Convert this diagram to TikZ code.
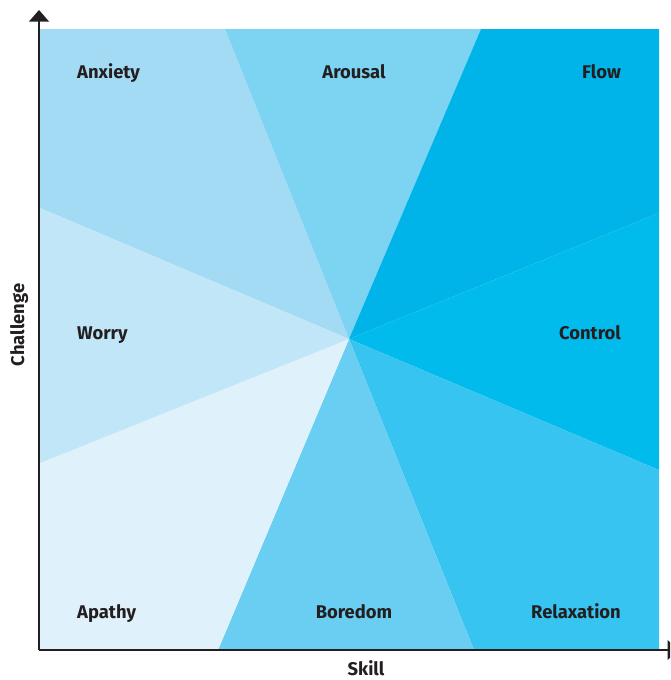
\documentclass[tikz,border=0pt]{standalone}
\usepackage{fontspec}
\setmainfont{Fira Sans}
\definecolor{cAnx}{HTML}{A3DBF4}
\definecolor{cAro}{HTML}{7DD3F2}
\definecolor{cFlow}{HTML}{00B4E9}
\definecolor{cCtl}{HTML}{00BBEC}
\definecolor{cRel}{HTML}{37C4F0}
\definecolor{cBor}{HTML}{69CEF1}
\definecolor{cApa}{HTML}{DFF1FB}
\definecolor{cWor}{HTML}{C0E6F8}
\definecolor{ink}{HTML}{231F20}
\tikzset{
  lbl/.style={inner sep=0pt, text=ink, font=\fontsize{18.4}{20}\selectfont\bfseries},
  axis/.style={draw=ink, line width=2.2pt},
  tip/.style={fill=ink, draw=none}
}
\begin{document}
\begin{tikzpicture}[x=1pt,y=-1pt]
\useasboundingbox (0,0) rectangle (670,680);
\clip (0,0) rectangle (670,680);
\coordinate (C) at (349,339);
% wedges
\fill[cAnx] (C) -- (40,208) -- (40,29) -- (225,29) -- cycle;
\fill[cAro] (C) -- (225,29) -- (481,29) -- cycle;
\fill[cFlow] (C) -- (481,29) -- (659,29) -- (659,213) -- cycle;
\fill[cCtl] (C) -- (659,213) -- (659,470) -- cycle;
\fill[cRel] (C) -- (659,470) -- (659,650) -- (474,650) -- cycle;
\fill[cBor] (C) -- (474,650) -- (218,650) -- cycle;
\fill[cApa] (C) -- (218,650) -- (40,650) -- (40,463) -- cycle;
\fill[cWor] (C) -- (40,463) -- (40,208) -- cycle;
% axes
\coordinate (O) at (39,650);
\coordinate (Ytop) at (39,21);
\coordinate (Xend) at (668,650);
\draw[axis] (O) -- (Ytop);
\draw[axis] (O) -- (Xend);
\fill[tip] (39,10) -- (29,21.5) -- (49,21.5) -- cycle;
\fill[tip] (679,650) -- (667.5,640) -- (667.5,660) -- cycle;
% labels
\node[lbl, anchor=base west] (anx) at (77,78) {Anxiety};
\node[lbl, anchor=base] (aro) at (354,78) {Arousal};
\node[lbl, anchor=base east] (flow) at (621,78) {Flow};
\node[lbl, anchor=base west] (wor) at (77,339) {Worry};
\node[lbl, anchor=base east] (ctl) at (621,339) {Control};
\node[lbl, anchor=base west] (apa) at (77,618) {Apathy};
\node[lbl, anchor=base] (bor) at (354,618) {Boredom};
\node[lbl, anchor=base east] (rel) at (621,618) {Relaxation};
\node[lbl, rotate=90, anchor=base] (chal) at (24,325) {Challenge};
\node[lbl, anchor=base] (skill) at (366,675) {Skill};
\end{tikzpicture}
\end{document}
